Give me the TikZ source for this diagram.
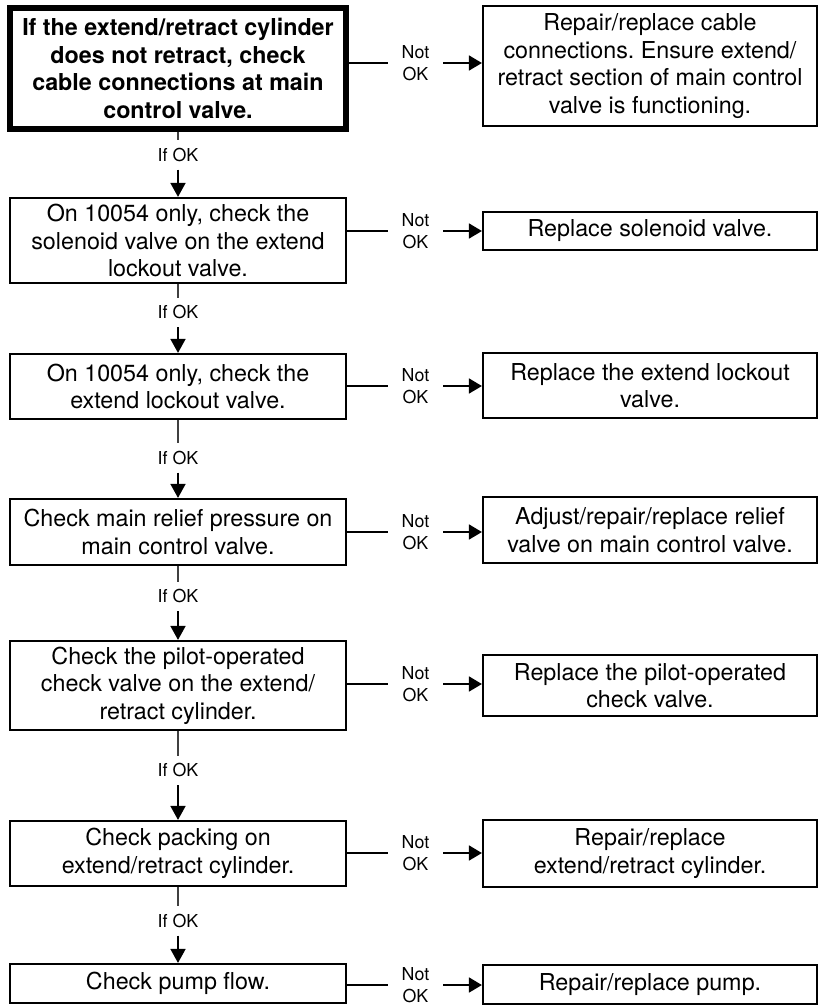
\documentclass[tikz,border=0pt]{standalone}
\usepackage{fontspec}
\setmainfont{TeX Gyre Heros}
\usetikzlibrary{arrows.meta}
\frenchspacing
\begin{document}
\begin{tikzpicture}[x=1bp,y=-1bp,
  box/.style={draw, line width=2.2bp, inner sep=0pt, align=center,
    font=\fontsize{23.3bp}{27.5bp}\selectfont},
  lbox/.style={box, minimum width=335.5bp},
  rbox/.style={box, minimum width=334bp},
  notok/.style={inner sep=0pt, minimum width=55bp, minimum height=40bp, align=center,
    font=\fontsize{17.8bp}{21.5bp}\selectfont},
  ifok/.style={inner sep=0pt, minimum width=50bp, minimum height=29bp,
    font=\fontsize{17.8bp}{21.5bp}\selectfont},
  hline/.style={line width=1.8bp},
  harr/.style={line width=1.8bp, -{Triangle[length=13bp,width=15bp]}},
  vstub/.style={line width=1.1bp, draw=black!75},
  varr/.style={line width=1.8bp, -{Triangle[length=14bp,width=15bp]}}
]
\useasboundingbox (0,0) rectangle (823,1006);

% checks, left column
\node[lbox, line width=6bp, minimum width=336bp, minimum height=120.5bp, font=\fontsize{23.3bp}{27.5bp}\selectfont\bfseries]
  (L1) at (178,68.25) {If the extend/retract cylinder\\does not retract, check\\cable connections at main\\control valve.};
\node[lbox, minimum height=85bp] (L2) at (178,240.5) {On 10054 only, check the\\solenoid valve on the extend\\lockout valve.};
\node[lbox, minimum height=65bp] (L3) at (178,386.5) {On 10054 only, check the\\extend lockout valve.};
\node[lbox, minimum height=66bp] (L4) at (178,532) {Check main relief pressure on\\main control valve.};
\node[lbox, minimum height=89bp] (L5) at (178,685.5) {Check the pilot-operated\\check valve on the extend/\\retract cylinder.};
\node[lbox, minimum height=65bp] (L6) at (178,853.5) {Check packing on\\extend/retract cylinder.};
\node[lbox, minimum height=39bp] (L7) at (178,983.5) {Check pump flow.};

% remedies, right column
\node[rbox, minimum height=120bp] (R1) at (650,66) {Repair/replace cable\\connections. Ensure extend/\\retract section of main control\\valve is functioning.};
\node[rbox, minimum height=38bp] (R2) at (650,231) {Replace solenoid valve.};
\node[rbox, minimum height=65bp] (R3) at (650,385.5) {Replace the extend lockout\\valve.};
\node[rbox, minimum height=66bp] (R4) at (650,530) {Adjust/repair/replace relief\\valve on main control valve.};
\node[rbox, minimum height=61bp] (R5) at (650,685.5) {Replace the pilot-operated\\check valve.};
\node[rbox, minimum height=67bp] (R6) at (650,853.5) {Repair/replace\\extend/retract cylinder.};
\node[rbox, minimum height=39bp] (R7) at (650,984.5) {Repair/replace pump.};

% "Not OK" labels
\node[notok] (N1) at (415.5,63) {Not\\OK};
\node[notok] (N2) at (415.5,231) {Not\\OK};
\node[notok] (N3) at (415.5,386) {Not\\OK};
\node[notok] (N4) at (415.5,532) {Not\\OK};
\node[notok] (N5) at (415.5,684) {Not\\OK};
\node[notok] (N6) at (415.5,853) {Not\\OK};
\node[notok] (N7) at (415.5,985) {Not\\OK};

% "If OK" labels
\node[ifok] (K1) at (178,155) {If OK};
\node[ifok] (K2) at (178,312.5) {If OK};
\node[ifok] (K3) at (178,458) {If OK};
\node[ifok] (K4) at (178,596.5) {If OK};
\node[ifok] (K5) at (178,770.5) {If OK};
\node[ifok] (K6) at (178,921) {If OK};

% horizontal connectors
\foreach \i in {1,...,7}{
  \draw[hline] (L\i.east |- N\i) -- (N\i.west);
  \draw[harr] (N\i.east) -- (R\i.west |- N\i);
}

% vertical connectors
\foreach \i/\j in {1/2,2/3,3/4,4/5,5/6,6/7}{
  \draw[vstub] (L\i.south) -- (K\i.north);
  \draw[varr] (K\i.south) -- (L\j.north);
}
\end{tikzpicture}
\end{document}
